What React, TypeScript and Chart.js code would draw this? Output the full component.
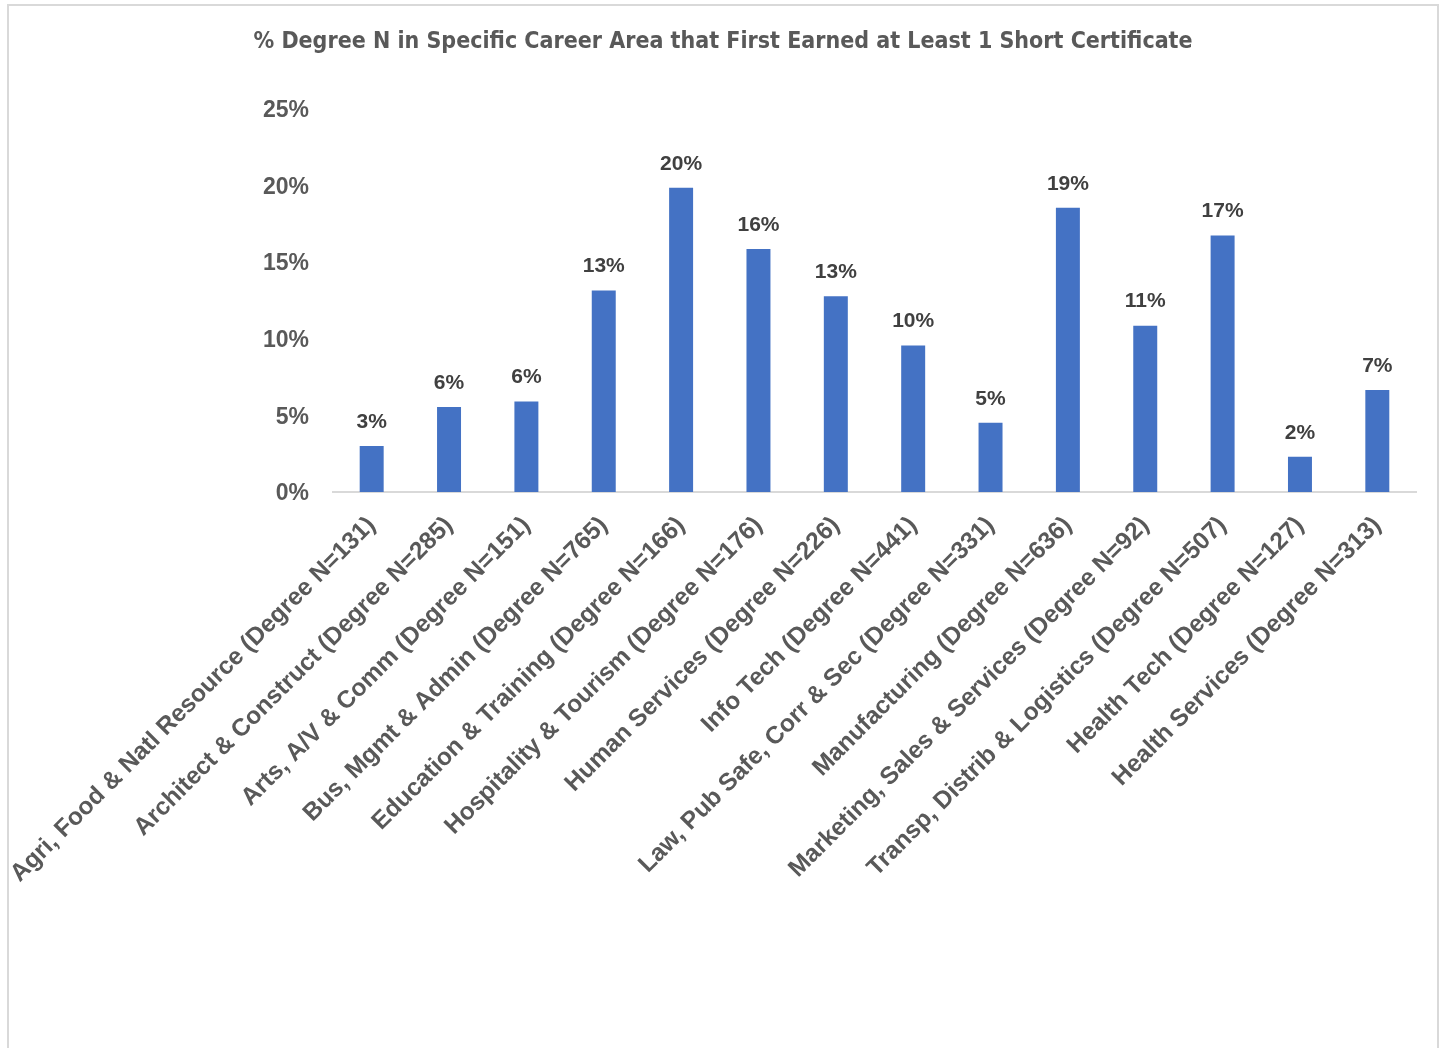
import React, { useEffect, useRef } from "react";
import { Chart, registerables } from "chart.js";

Chart.register(...registerables);

const TITLE =
  "% Degree N in Specific Career Area that First Earned at Least 1 Short Certificate";

const categories = [
  "Agri, Food & Natl Resource (Degree N=131)",
  "Architect & Construct (Degree N=285)",
  "Arts, A/V & Comm (Degree N=151)",
  "Bus, Mgmt & Admin (Degree N=765)",
  "Education & Training (Degree N=166)",
  "Hospitality & Tourism (Degree N=176)",
  "Human Services (Degree N=226)",
  "Info Tech (Degree N=441)",
  "Law, Pub Safe, Corr & Sec (Degree N=331)",
  "Manufacturing (Degree N=636)",
  "Marketing, Sales & Services (Degree N=92)",
  "Transp, Distrib & Logistics (Degree N=507)",
  "Health Tech (Degree N=127)",
  "Health Services (Degree N=313)",
];

const values = [3.0, 5.55, 5.9, 13.15, 19.85, 15.86, 12.77, 9.55, 4.52, 18.54, 10.85, 16.73, 2.3, 6.66];

const yMin = 0;
const yMax = 25;
const yStep = 5;

const FONT = '"Liberation Sans", Arial, sans-serif';
const TITLE_FONT = '"Liberation Sans Narrow", "DejaVu Sans Condensed", "Liberation Sans", sans-serif';

const valueLabels = {
  id: "valueLabels",
  afterDatasetsDraw(chart: any) {
    const ctx = chart.ctx;
    const meta = chart.getDatasetMeta(0);
    ctx.save();
    ctx.font = `bold 21px ${FONT}`;
    ctx.fillStyle = "#404040";
    ctx.textAlign = "center";
    ctx.textBaseline = "middle";
    meta.data.forEach((bar: any, i: number) => {
      ctx.fillText(Math.round(values[i]) + "%", bar.x, bar.y - 24);
    });
    ctx.restore();
  },
};

export default function App() {
  const ref = useRef<HTMLCanvasElement | null>(null);

  useEffect(() => {
    if (!ref.current) return;
    const chart = new Chart(ref.current, {
      type: "bar",
      data: {
        labels: categories,
        datasets: [
          {
            data: values,
            backgroundColor: "#4472C4",
            borderWidth: 0,
            barPercentage: 0.31,
            categoryPercentage: 1,
          },
        ],
      },
      options: {
        responsive: false,
        animation: false,
        devicePixelRatio: 1,
        layout: { padding: 0 },
        plugins: {
          legend: { display: false },
          tooltip: { enabled: false },
          title: {
            display: true,
            text: TITLE,
            color: "#595959",
            font: { family: TITLE_FONT, size: 23, weight: "bold", lineHeight: 1.2 },
            padding: { top: 22.2, bottom: 53 },
          },
        },
        scales: {
          x: {
            grid: { display: false, drawTicks: false },
            border: { display: true, color: "#d9d9d9", width: 2 },
            ticks: {
              color: "#595959",
              font: { family: FONT, size: 24.5, weight: "bold" },
              minRotation: 45,
              maxRotation: 45,
              autoSkip: false,
              padding: 19,
            },
            afterFit(s: any) {
              s.height = 556;
              s.paddingLeft = 0;
              s.paddingRight = 21;
            },
          },
          y: {
            min: yMin,
            max: yMax,
            grid: { display: false, drawTicks: false },
            border: { display: false },
            ticks: {
              stepSize: yStep,
              color: "#595959",
              font: { family: FONT, size: 23, weight: "bold" },
              padding: 24,
              labelOffset: 2,
              callback: (v: any) => v + "%",
            },
            afterFit(s: any) {
              s.width = 324;
            },
          },
        },
      },
      plugins: [valueLabels],
    });
    return () => chart.destroy();
  }, []);

  return (
    <div
      style={{
        position: "absolute",
        left: 7,
        top: 4,
        width: 1432,
        height: 1044,
        border: "2px solid #d9d9d9",
        borderBottom: "none",
        boxSizing: "border-box",
        background: "#ffffff",
      }}
    >
      <canvas ref={ref} width={1428} height={1042} style={{ display: "block" }} />
    </div>
  );
}
